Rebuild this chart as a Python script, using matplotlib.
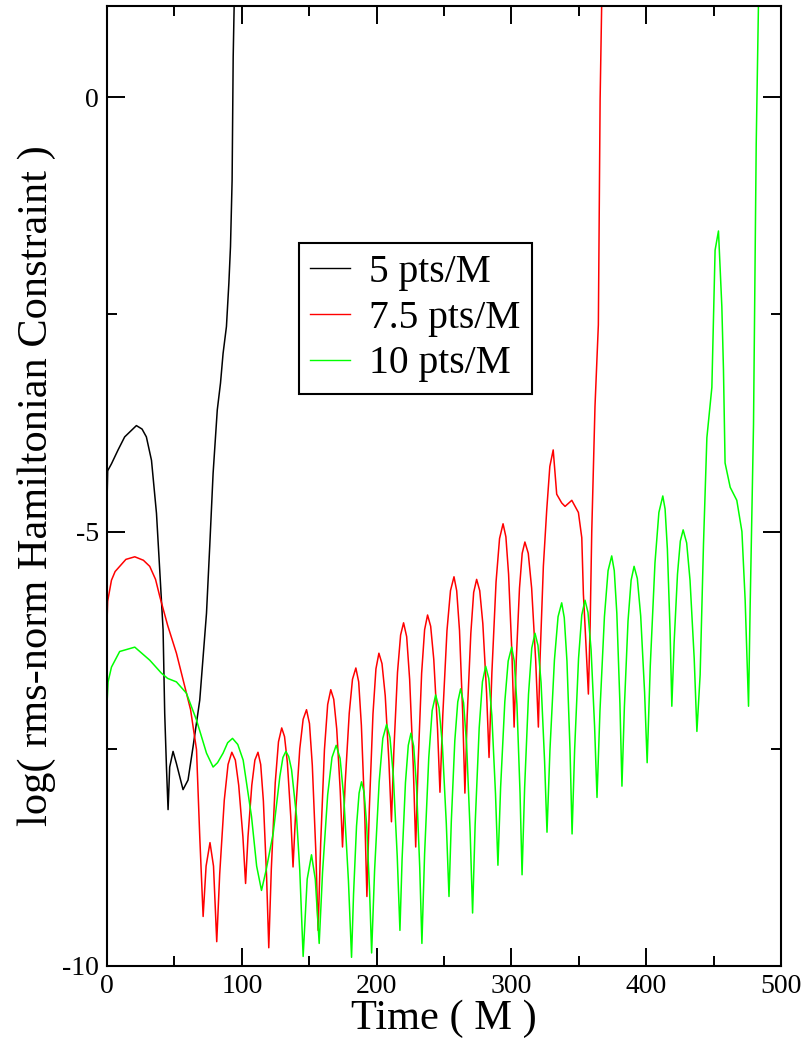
import numpy
import matplotlib
matplotlib.use('Agg')
import matplotlib.pyplot as plt
from matplotlib.ticker import MultipleLocator

# log10 of the rms-norm Hamiltonian constraint vs time, three resolutions
t_5 = [0, 0.5, 3.3, 8.2, 13.1, 21.8, 26, 29.2, 33, 36.7, 39.1, 41.6, 42.8, 44.1, 45.3,
       46.5, 49, 51.5, 56.4, 60.1, 63.8, 68.8, 73.8, 76.2, 78.7, 81.8, 84.2, 86.1,
       88.6, 90.4, 91.6, 92.8, 93.6, 94.5]
h_5 = [-4.66, -4.3, -4.22, -4.06, -3.91, -3.78, -3.82, -3.91, -4.18, -4.79, -5.44, -6.13,
       -7.09, -7.71, -8.2, -7.71, -7.53, -7.67, -7.97, -7.86, -7.48, -6.94, -5.94, -5.17,
       -4.33, -3.6, -3.29, -2.95, -2.64, -2.14, -1.72, -0.96, 0.46, 1.2]

t_75 = [0, 0.5, 3.3, 6, 9.4, 14, 20.6, 27, 31.7, 36, 39.2, 45, 51.5, 58.9, 62, 66.4, 68.8, 71.3,
        73.5, 76.4, 79, 81.4,
        83.6, 87.0, 89.8, 92.6, 95.2, 97.7, 100.8, 102.8,
        104.6, 107.4, 109.7, 112, 114, 116, 118.4, 120,
        121.9, 124.8, 127.2, 129.6, 131.7, 133.8, 136.3, 138,
        140, 143, 145.5, 148, 150.2, 152.3, 154.9, 156.6,
        158.5, 161.3, 163.7, 166, 168.2, 170.4, 173, 174.7,
        176.7, 179.7, 182.1, 184.6, 186.7, 188.7, 191.2, 192.8,
        194.6, 197.3, 199.5, 201.7, 204, 206.4, 209.1, 211,
        212.8, 215.5, 217.8, 220, 222.3, 224.5, 227.2, 229,
        230.8, 233.4, 235.6, 237.8, 240.1, 242.4, 245.2, 247,
        249.1, 252.2, 254.8, 257.4, 259.4, 261.5, 263.9, 265.5,
        267.2, 269.9, 272, 274.2, 276.5, 278.8, 281.6, 283.4,
        285.5, 288.6, 291.2, 293.8, 295.9, 297.9, 300.4, 302,
        303.6, 306, 308, 310, 312.5, 315, 318, 320,
        321.2, 323.7, 326.2, 328.5, 331, 333.6, 337.3, 339.8, 344.8, 349.7, 352.2,
        353.4, 354.6, 357.1, 358.4, 359.6, 362, 364.5, 365.8, 367]
h_75 = [-6.04, -5.8, -5.56, -5.46, -5.40, -5.32, -5.29, -5.33, -5.40, -5.55, -5.75, -6.08,
        -6.40, -6.86, -7.05, -7.51, -8.51, -9.43,
        -8.85, -8.58, -8.85, -9.72,
        -8.94, -8.09, -7.68, -7.54, -7.63, -7.92, -8.51, -9.05,
        -8.51, -7.92, -7.63, -7.54, -7.68, -8.10, -8.98, -9.79,
        -8.88, -7.89, -7.42, -7.26, -7.36, -7.66, -8.28, -8.86,
        -8.21, -7.50, -7.16, -7.05, -7.21, -7.69, -8.68, -9.59,
        -8.59, -7.51, -6.99, -6.82, -6.93, -7.27, -7.98, -8.63,
        -7.89, -7.09, -6.70, -6.57, -6.73, -7.23, -8.25, -9.2,
        -8.19, -7.10, -6.58, -6.4, -6.52, -6.89, -7.64, -8.34,
        -7.52, -6.62, -6.19, -6.05, -6.21, -6.70, -7.70, -8.63,
        -7.67, -6.63, -6.13, -5.96, -6.09, -6.47, -7.27, -8.0,
        -7.11, -6.14, -5.68, -5.52, -5.68, -6.14, -7.11, -8.01,
        -7.12, -6.17, -5.70, -5.55, -5.68, -6.06, -6.86, -7.6,
        -6.63, -5.58, -5.08, -4.91, -5.06, -5.49, -6.41, -7.25,
        -6.48, -5.65, -5.25, -5.12, -5.25, -5.65, -6.48, -7.25,
        -6.48, -5.4, -4.75, -4.25, -4.06, -4.57, -4.67, -4.71, -4.64, -4.78, -5.07,
        -5.72, -6.08, -6.87, -6.08, -5.0, -3.56, -2.62, -0.03, 1.1]

t_10 = [0, 0.8, 3.3, 9.4, 20.6, 31.7, 40.4, 45, 51.5, 58.9, 66.4, 73.8, 78.7, 82, 86.1,
        89.5, 93.1, 97, 101, 107.2, 111, 114.6, 118, 123.3, 128.2, 130.5, 132.7, 134.8,
        136.9, 140.6, 143, 145.5, 148.5, 151.7, 154.5, 157.4,
        159.9, 163.7, 166.9, 170, 172.9, 175.7, 179.1, 181.4,
        182.9, 185.1, 187, 188.8, 190.7, 192.6, 194.8, 196.3,
        198.5, 201.9, 204.6, 207.4, 209.9, 212.4, 215.3, 217.3,
        218.9, 221.4, 223.5, 225.5, 227.5, 229.6, 232, 233.6,
        235.6, 238.7, 241.2, 243.8, 246.3, 248.8, 251.7, 253.7,
        255.4, 258, 260.2, 262.3, 264.5, 266.8, 269.4, 271.2,
        273.1, 276.1, 278.5, 280.9, 283.2, 285.5, 288.2, 290,
        292, 295.1, 297.6, 300.2, 302.1, 304.1, 306.4, 307.9,
        309.8, 312.7, 315.1, 317.5, 319.7, 322, 324.6, 326.4,
        328.6, 331.9, 334.6, 337.3, 339.2, 341.2, 343.5, 345,
        346.9, 349.8, 352.2, 354.6, 356.8, 359.1, 361.7, 363.5,
        365.7, 369, 371.7, 374.4, 376.3, 378.2, 380.5, 382,
        383.8, 386.5, 388.8, 391, 393.4, 395.9, 398.8, 400.7,
        403, 406.5, 409.4, 412.3, 414, 415.7, 417.7, 419,
        420.7, 423.2, 425.3, 427.4, 430, 432.5, 435.6, 437.6,
        440, 442.5, 445, 448.7, 451.1, 453.6, 456.1, 457.3, 458.5, 462.3, 467.2, 471,
        473.4, 475.9, 477.1, 479.6, 481.6, 483.3]
h_10 = [-6.98, -6.73, -6.56, -6.38, -6.33, -6.48, -6.63, -6.69, -6.73, -6.86, -7.17, -7.55,
        -7.71, -7.66, -7.55, -7.43, -7.38, -7.45, -7.63, -8.28, -8.85, -9.13, -8.9, -8.47,
        -7.82, -7.6, -7.53, -7.59, -7.74, -8.28, -8.9, -9.89, -9.0, -8.72, -9.0, -9.74,
        -8.92, -8.03, -7.60, -7.46, -7.61, -8.07, -9.02, -9.9,
        -9.17, -8.39, -8.01, -7.88, -8.0, -8.37, -9.14, -9.85,
        -8.90, -7.88, -7.38, -7.22, -7.37, -7.81, -8.74, -9.59,
        -8.77, -7.89, -7.46, -7.32, -7.47, -7.93, -8.87, -9.74,
        -8.71, -7.60, -7.06, -6.88, -7.03, -7.46, -8.36, -9.2,
        -8.34, -7.41, -6.96, -6.81, -6.97, -7.46, -8.46, -9.39,
        -8.37, -7.26, -6.73, -6.55, -6.69, -7.12, -8.02, -8.84,
        -7.94, -6.96, -6.49, -6.33, -6.49, -6.99, -8.01, -8.95,
        -7.95, -6.87, -6.34, -6.17, -6.31, -6.74, -7.64, -8.46,
        -7.51, -6.48, -5.98, -5.82, -5.99, -6.49, -7.52, -8.48,
        -7.51, -6.46, -5.96, -5.79, -5.93, -6.36, -7.24, -8.06,
        -7.06, -5.98, -5.45, -5.28, -5.45, -5.94, -6.98, -7.93,
        -7.02, -6.03, -5.56, -5.4, -5.54, -5.97, -6.85, -7.66,
        -6.55, -5.36, -4.78, -4.59, -4.74, -5.20, -6.14, -7.01,
        -6.28, -5.49, -5.11, -4.98, -5.13, -5.56, -6.46, -7.3,
        -6.65, -5.14, -3.92, -3.34, -1.76, -1.54, -2.41, -3.13, -4.21, -4.49, -4.64, -5.0,
        -5.79, -7.01, -5.86, -3.77, -0.54, 1.1]

labels = ['5 pts/M', '7.5 pts/M', '10 pts/M']
colors = ['#000000', '#ff0000', '#00ff00']

plt.rcParams['font.family'] = ['Liberation Serif', 'DejaVu Serif']
plt.rcParams['axes.unicode_minus'] = False

fig = plt.figure(figsize=(8.07, 10.45), dpi=100)
ax = fig.add_axes([0.1326, 0.0756, 0.8352, 0.9187])

for t, h, lab, c in zip([t_5, t_75, t_10], [h_5, h_75, h_10], labels, colors):
    ax.plot(numpy.array(t), numpy.array(h), color=c, lw=1.1, label=lab)

ax.set_xlim(0, 500)
ax.set_ylim(-10, 1.05)
ax.xaxis.set_major_locator(MultipleLocator(100))
ax.xaxis.set_minor_locator(MultipleLocator(50))
ax.yaxis.set_major_locator(MultipleLocator(5))
ax.yaxis.set_minor_locator(MultipleLocator(2.5))
ax.tick_params(which='both', direction='in', top=True, right=True, width=1.4,
               labelsize=20, pad=6)
ax.tick_params(which='major', length=13)
ax.tick_params(which='minor', length=7)
for s in ax.spines.values():
    s.set_linewidth(1.5)

ax.set_xlabel('Time ( M )', fontsize=30.5, labelpad=0)
ax.set_ylabel('log( rms-norm Hamiltonian Constraint )', fontsize=30.5)
ax.yaxis.set_label_coords(-0.075, 0.5)

leg = ax.legend(loc='upper left', bbox_to_anchor=(299 / 807, 1 - 243 / 1045),
                bbox_transform=fig.transFigure, borderaxespad=0, fontsize=28.5,
                fancybox=False, framealpha=1, edgecolor='black',
                handlelength=1.0, handletextpad=0.5, labelspacing=0.22,
                borderpad=0.28)
leg.get_frame().set_linewidth(1.5)
for line in leg.get_lines():
    line.set_linewidth(1.0)

fig.savefig('out.png', dpi=100)
